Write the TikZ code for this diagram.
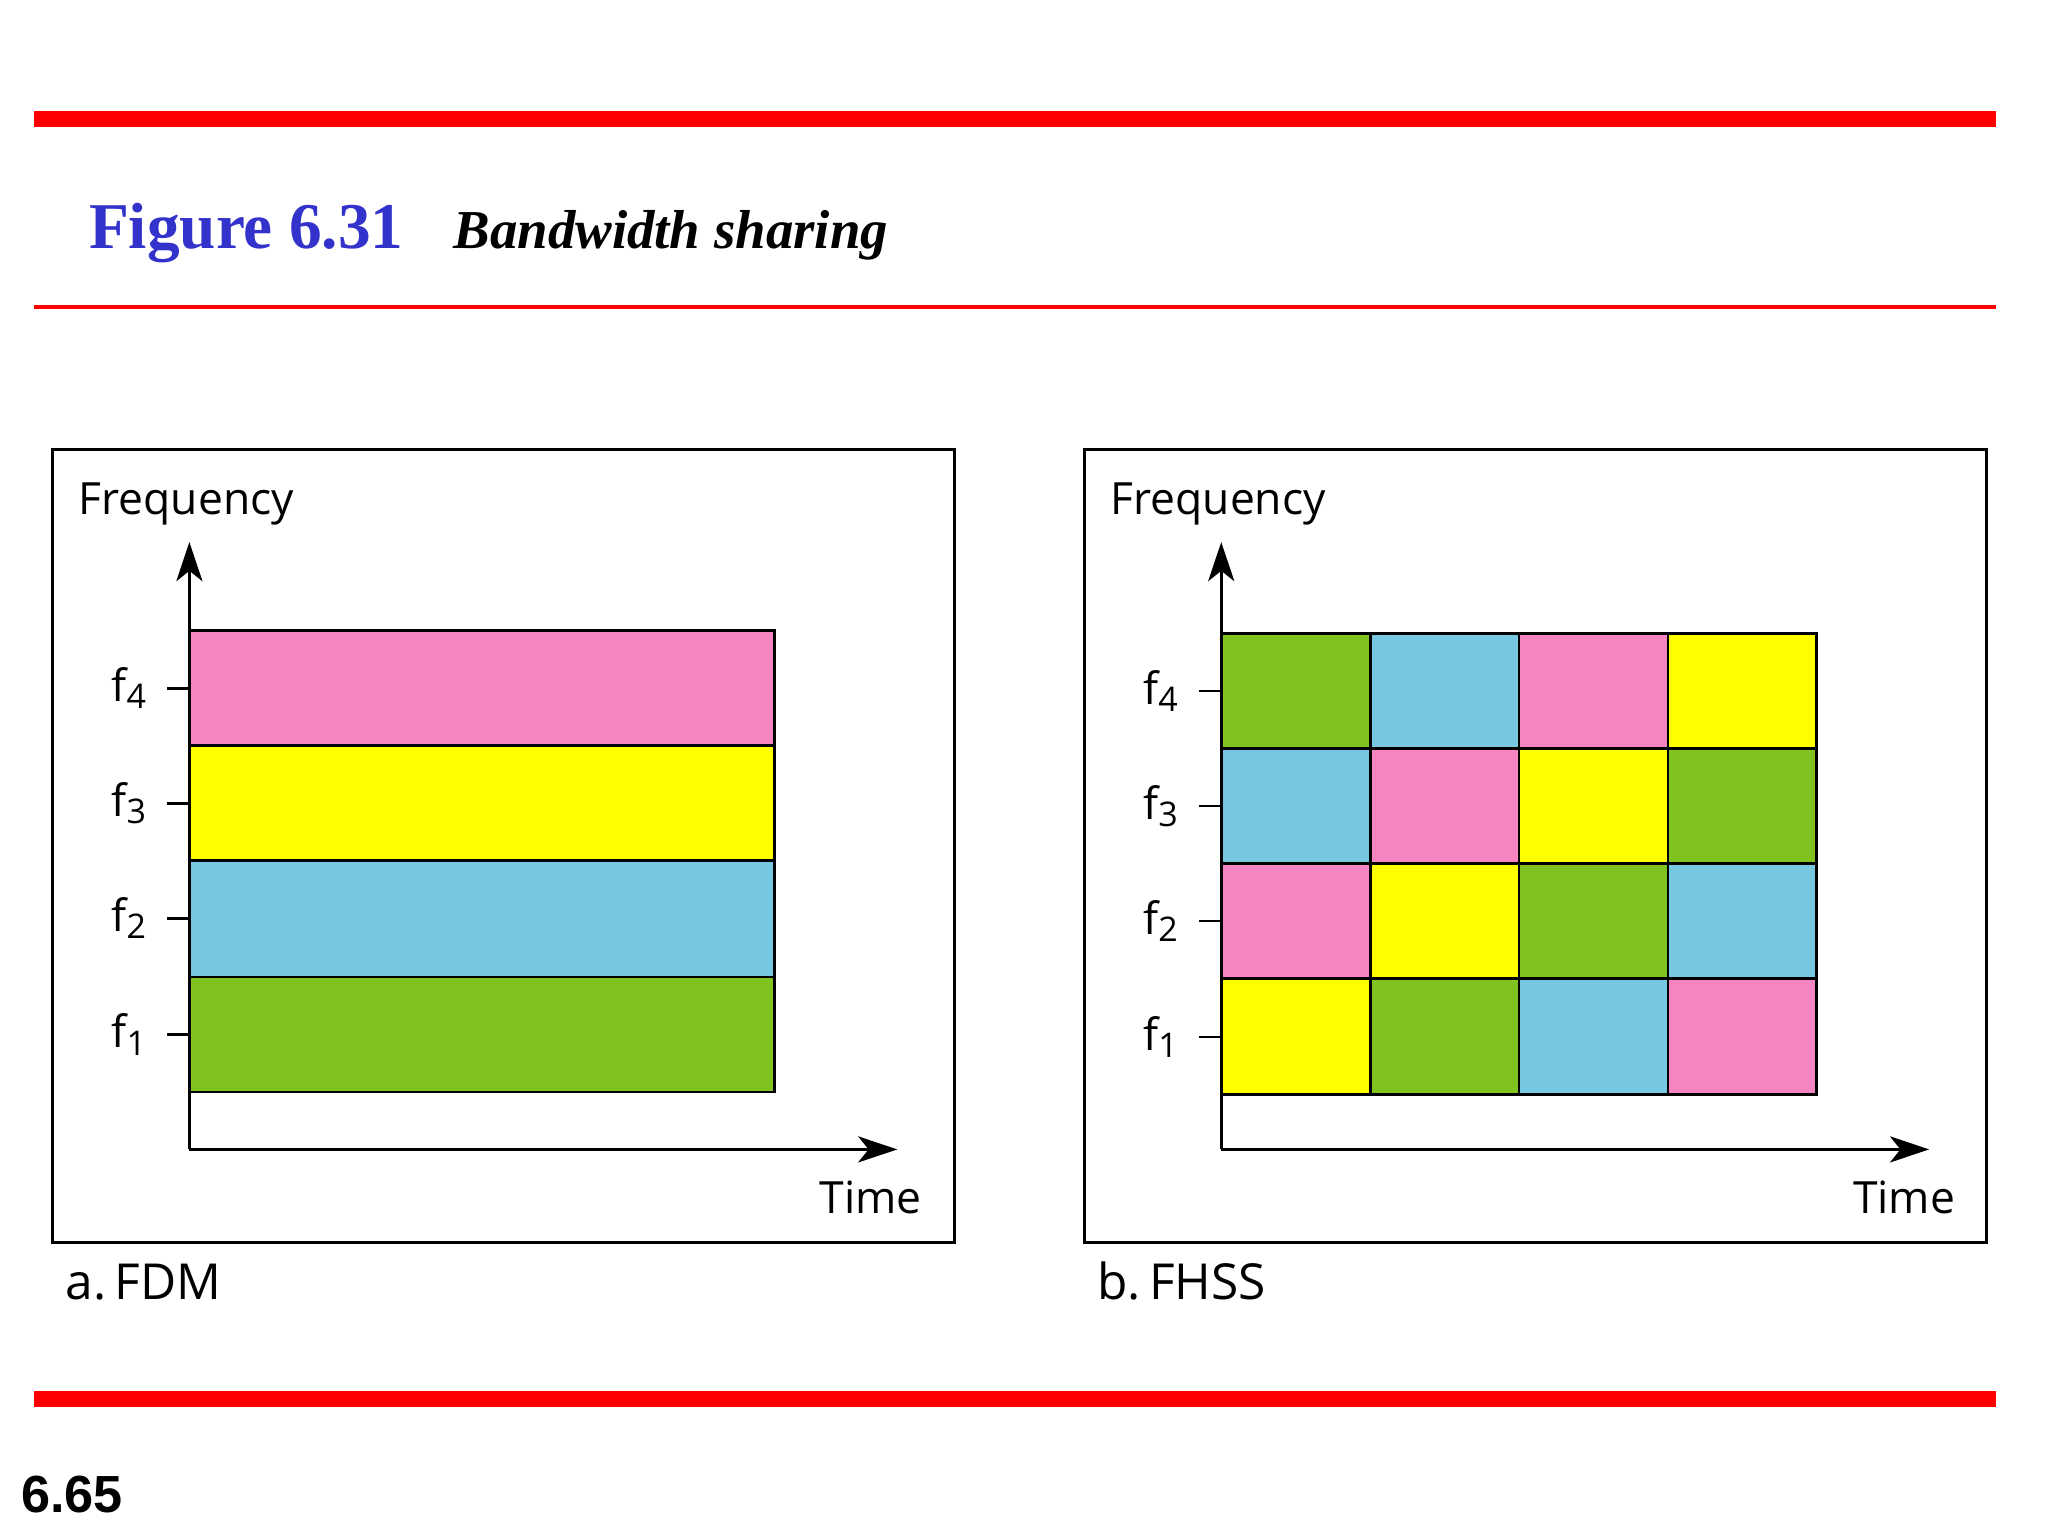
\documentclass[tikz,border=0pt]{standalone}
\usepackage{fontspec}
\setmainfont{Liberation Serif}
\newfontfamily\lblfont{Open Sans}
\newfontfamily\numfont{Liberation Sans}
\usetikzlibrary{arrows.meta}
\definecolor{cpink}{HTML}{F584C0}
\definecolor{cyel}{HTML}{FFFF00}
\definecolor{cblue}{HTML}{76C8E0}
\definecolor{cgreen}{HTML}{80C31F}
\definecolor{ctitle}{HTML}{3333CC}
\newcommand{\fsub}[1]{f\raisebox{-0.3ex}{\fontsize{26}{28}\selectfont #1}}
\begin{document}
\begin{tikzpicture}[x=1pt,y=-1pt,
  lbl/.style={font=\lblfont\fontsize{34}{38}\selectfont,inner sep=0pt},
  cell/.style={draw=black,line width=2.2pt},
  ax/.style={line width=2pt,-{Stealth[length=30pt,width=20pt,inset=8pt]}},
  frame/.style={draw=black,line width=2.2pt}]
\useasboundingbox (0,0) rectangle (1568,1176);
\fill[red] (26,85) rectangle (1528,97);
\fill[red] (26,233.5) rectangle (1528,236.5);
\fill[red] (26,1065) rectangle (1528,1077);
\node[anchor=base west,inner sep=0pt,text=ctitle,font=\bfseries\fontsize{50}{54}\selectfont] (t1) at (68,190) {Figure 6.31};
\node[anchor=base west,inner sep=0pt,font=\bfseries\itshape\fontsize{42}{46}\selectfont] (t2) at (347,190) {Bandwidth sharing};
\node[anchor=base west,inner sep=0pt,font=\numfont\bfseries\fontsize{40}{44}\selectfont] (pg) at (16,1158) {6.65};
% panel a
\draw[frame] (40,344) rectangle (731,951);
\node[lbl,anchor=base west] (fa) at (60,394) {Frequency};
\coordinate (oa) at (145,880);
\coordinate (ya) at (145,415);
\coordinate (xa) at (687,880);
\draw[ax] (oa) -- (ya);
\draw[ax] (oa) -- (xa);
\foreach \c/\t/\b in {cpink/483/571, cyel/571/659, cblue/659/748, cgreen/748/836}
  \draw[cell,fill=\c] (145,\t) rectangle (593,\b);
\foreach \y/\i in {527/4,615/3,703/2,792/1}{
  \draw[line width=2pt] (128,\y) -- (145,\y);
  \node[lbl,anchor=east] at (112,\y) {\fsub{\i}};}
\node[lbl,anchor=base east] (ta) at (706,929) {Time};
\node[lbl,anchor=base west,font=\lblfont\fontsize{38}{42}\selectfont] (la) at (50,995) {a.\,FDM};
% panel b
\draw[frame] (830,344) rectangle (1521,951);
\node[lbl,anchor=base west] (fb) at (850,394) {Frequency};
\coordinate (ob) at (935,880);
\coordinate (yb) at (935,415);
\coordinate (xb) at (1477,880);
\draw[ax] (ob) -- (yb);
\draw[ax] (ob) -- (xb);
\foreach \row/\t/\b/\ca/\cb/\cc/\cd in {4/485/573/cgreen/cblue/cpink/cyel, 3/573/661/cblue/cpink/cyel/cgreen, 2/661/749/cpink/cyel/cgreen/cblue, 1/749/838/cyel/cgreen/cblue/cpink}{
  \draw[cell,fill=\ca] (935,\t) rectangle (1049,\b);
  \draw[cell,fill=\cb] (1049,\t) rectangle (1163,\b);
  \draw[cell,fill=\cc] (1163,\t) rectangle (1277,\b);
  \draw[cell,fill=\cd] (1277,\t) rectangle (1391,\b);}
\foreach \y/\i in {529/4,617/3,705/2,794/1}{
  \draw[line width=2pt] (918,\y) -- (935,\y);
  \node[lbl,anchor=east] at (902,\y) {\fsub{\i}};}
\node[lbl,anchor=base east] (tb) at (1497,929) {Time};
\node[lbl,anchor=base west,font=\lblfont\fontsize{38}{42}\selectfont] (lb) at (840,995) {b.\,FHSS};
\end{tikzpicture}
\end{document}
